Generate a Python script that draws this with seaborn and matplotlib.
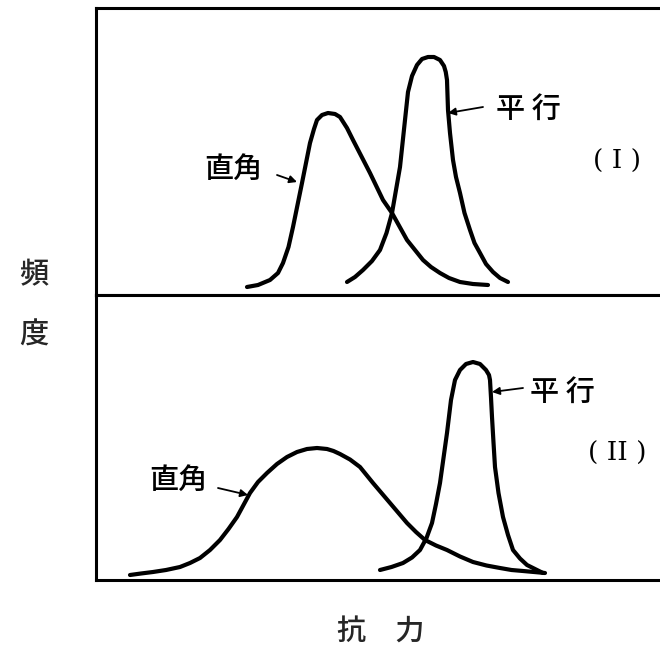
import matplotlib
matplotlib.use("Agg")
import matplotlib.pyplot as plt
import pandas as pd
import seaborn as sns

# Strength (x) and frequency (y) readings for each grain direction, two panels
top_perp_x = [30.2, 32.4, 34.8, 36.4, 37.4, 38.5, 39.4, 41.2, 42.8, 43.6, 44.2, 45.2,
              46.4, 47.8, 48.8, 50.2, 51.4, 54.8, 57.4, 59.2, 62.2, 65.4, 67.0, 68.8,
              70.6, 72.8, 75.4, 78.4]
top_perp_y = [1.6, 2.0, 3.0, 4.4, 6.4, 9.6, 13.6, 22.4, 30.4, 33.2, 35.0, 36.0,
              36.4, 36.2, 35.6, 33.4, 31.0, 24.4, 19.0, 16.4, 11.0, 7.0, 5.6, 4.4,
              3.4, 2.6, 2.2, 2.0]

top_par_x = [50.2, 51.8, 53.4, 55.2, 56.8, 58.1, 59.2, 60.8, 61.8, 62.4, 63.2, 64.2,
             65.2, 66.4, 67.6, 68.8, 69.6, 69.95, 70.2, 70.4, 70.8, 71.4, 72.0, 72.8,
             73.7, 74.8, 75.7, 76.8, 78.0, 79.4, 80.8, 82.4]
top_par_y = [2.6, 3.6, 5.0, 6.8, 9.0, 12.4, 16.4, 25.6, 35.0, 40.6, 43.8, 46.0,
             47.2, 47.6, 47.6, 47.0, 45.8, 44.6, 43.0, 37.0, 32.4, 27.0, 23.6, 20.4,
             16.4, 13.0, 10.4, 8.4, 6.2, 4.6, 3.4, 2.6]

bot_perp_x = [6.8, 9.0, 11.4, 14.0, 16.8, 18.8, 20.8, 22.8, 24.8, 26.5, 28.2, 29.5,
              30.8, 32.4, 34.2, 36.2, 38.2, 40.2, 42.2, 44.2, 46.2, 47.5, 48.8, 50.8,
              52.8, 54.1, 55.4, 57.1, 58.8, 60.5, 62.2, 64.0, 65.8, 68.0, 70.2, 72.8,
              75.4, 78.1, 80.8, 83.1, 85.4, 89.8]
bot_perp_y = [1.0, 1.3, 1.6, 2.0, 2.6, 3.4, 4.4, 6.0, 8.0, 10.2, 12.6, 15.0,
              17.4, 19.6, 21.4, 23.2, 24.6, 25.6, 26.2, 26.4, 26.2, 25.8, 25.2, 24.1,
              22.6, 21.0, 19.4, 17.4, 15.4, 13.4, 11.4, 9.6, 8.0, 6.9, 6.0, 4.7,
              3.6, 2.9, 2.4, 2.0, 1.8, 1.4]

bot_par_x = [56.8, 59.1, 61.4, 63.2, 64.8, 66.1, 67.2, 68.0, 68.8, 69.5, 70.2, 71.0,
             71.8, 72.8, 74.0, 75.4, 76.8, 78.0, 78.6, 78.8, 79.0, 79.2, 79.5, 79.8,
             80.5, 81.4, 82.4, 83.4, 84.8, 86.2, 89.4]
bot_par_y = [2.0, 2.6, 3.4, 4.5, 6.0, 8.4, 11.4, 15.2, 19.4, 24.4, 29.4, 36.0,
             40.0, 42.0, 43.2, 43.6, 43.2, 42.0, 41.0, 40.0, 36.5, 32.6, 27.5, 22.6,
             17.4, 12.6, 9.0, 6.0, 4.3, 3.0, 1.4]

label_perp = "直角"
label_par = "平 行"
panel_labels = ["( I )", "( II )"]
y_label = "頻\n度"
x_label = "抗　力"

sns.set_theme(style="white")
plt.rcParams["font.family"] = ["Noto Sans CJK JP", "DejaVu Sans"]

fig = plt.figure(figsize=(6.6, 6.5), dpi=100)
ax_top = fig.add_axes([96 / 660, 355 / 650, 574 / 660, 287 / 650])
ax_bot = fig.add_axes([96 / 660, 70 / 650, 574 / 660, 285 / 650])

panels = [
    (ax_top, top_perp_x, top_perp_y, top_par_x, top_par_y, 57.4),
    (ax_bot, bot_perp_x, bot_perp_y, bot_par_x, bot_par_y, 57.0),
]

for ax, px, py, qx, qy, ytop in panels:
    for xs, ys in ((px, py), (qx, qy)):
        df = pd.DataFrame({"strength": xs, "freq": ys})
        sns.lineplot(data=df, x="strength", y="freq", ax=ax, color="black",
                     lw=3.0, sort=False, estimator=None,
                     solid_capstyle="round", solid_joinstyle="round")
    ax.set_xlim(0, 114.8)
    ax.set_ylim(0, ytop)
    ax.set_xticks([])
    ax.set_yticks([])
    ax.set_xlabel("")
    ax.set_ylabel("")
    for side in ("left", "top", "bottom", "right"):
        ax.spines[side].set_visible(True)
        ax.spines[side].set_color("black")
        ax.spines[side].set_linewidth(2.2)
    ax.set_facecolor("white")

arrow_kw = dict(arrowstyle="-|>", lw=1.3, color="black", mutation_scale=11,
                shrinkA=0, shrinkB=0)
text_kw = dict(fontsize=21, fontweight="medium", ha="center", va="center",
               color="black")
roman_kw = dict(fontsize=19, ha="center", va="center", color="black",
                family=["DejaVu Serif"])

# Panel (I)
ax_top.text(27.4, 25.2, label_perp, **text_kw)
ax_top.annotate("", xy=(40.2, 22.6), xytext=(36.2, 24.0), arrowprops=arrow_kw)
ax_top.text(86.4, 37.2, label_par, **text_kw)
ax_top.annotate("", xy=(70.4, 36.4), xytext=(77.4, 37.6), arrowprops=arrow_kw)
ax_top.text(104.2, 26.8, panel_labels[0], **roman_kw)

# Panel (II)
ax_bot.text(16.4, 20.0, label_perp, **text_kw)
ax_bot.annotate("", xy=(30.4, 17.0), xytext=(24.4, 18.4), arrowprops=arrow_kw)
ax_bot.text(93.2, 37.6, label_par, **text_kw)
ax_bot.annotate("", xy=(79.2, 37.6), xytext=(85.4, 38.4), arrowprops=arrow_kw)
ax_bot.text(104.2, 25.4, panel_labels[1], **roman_kw)

fig.text(34 / 660, 1 - 305 / 650, y_label, fontsize=21, fontweight="medium",
         ha="center", va="center", linespacing=2.25)
fig.text(381 / 660, 1 - 632 / 650, x_label, fontsize=21, fontweight="medium",
         ha="center", va="center")

fig.savefig("out.png", dpi=100, facecolor="white")
